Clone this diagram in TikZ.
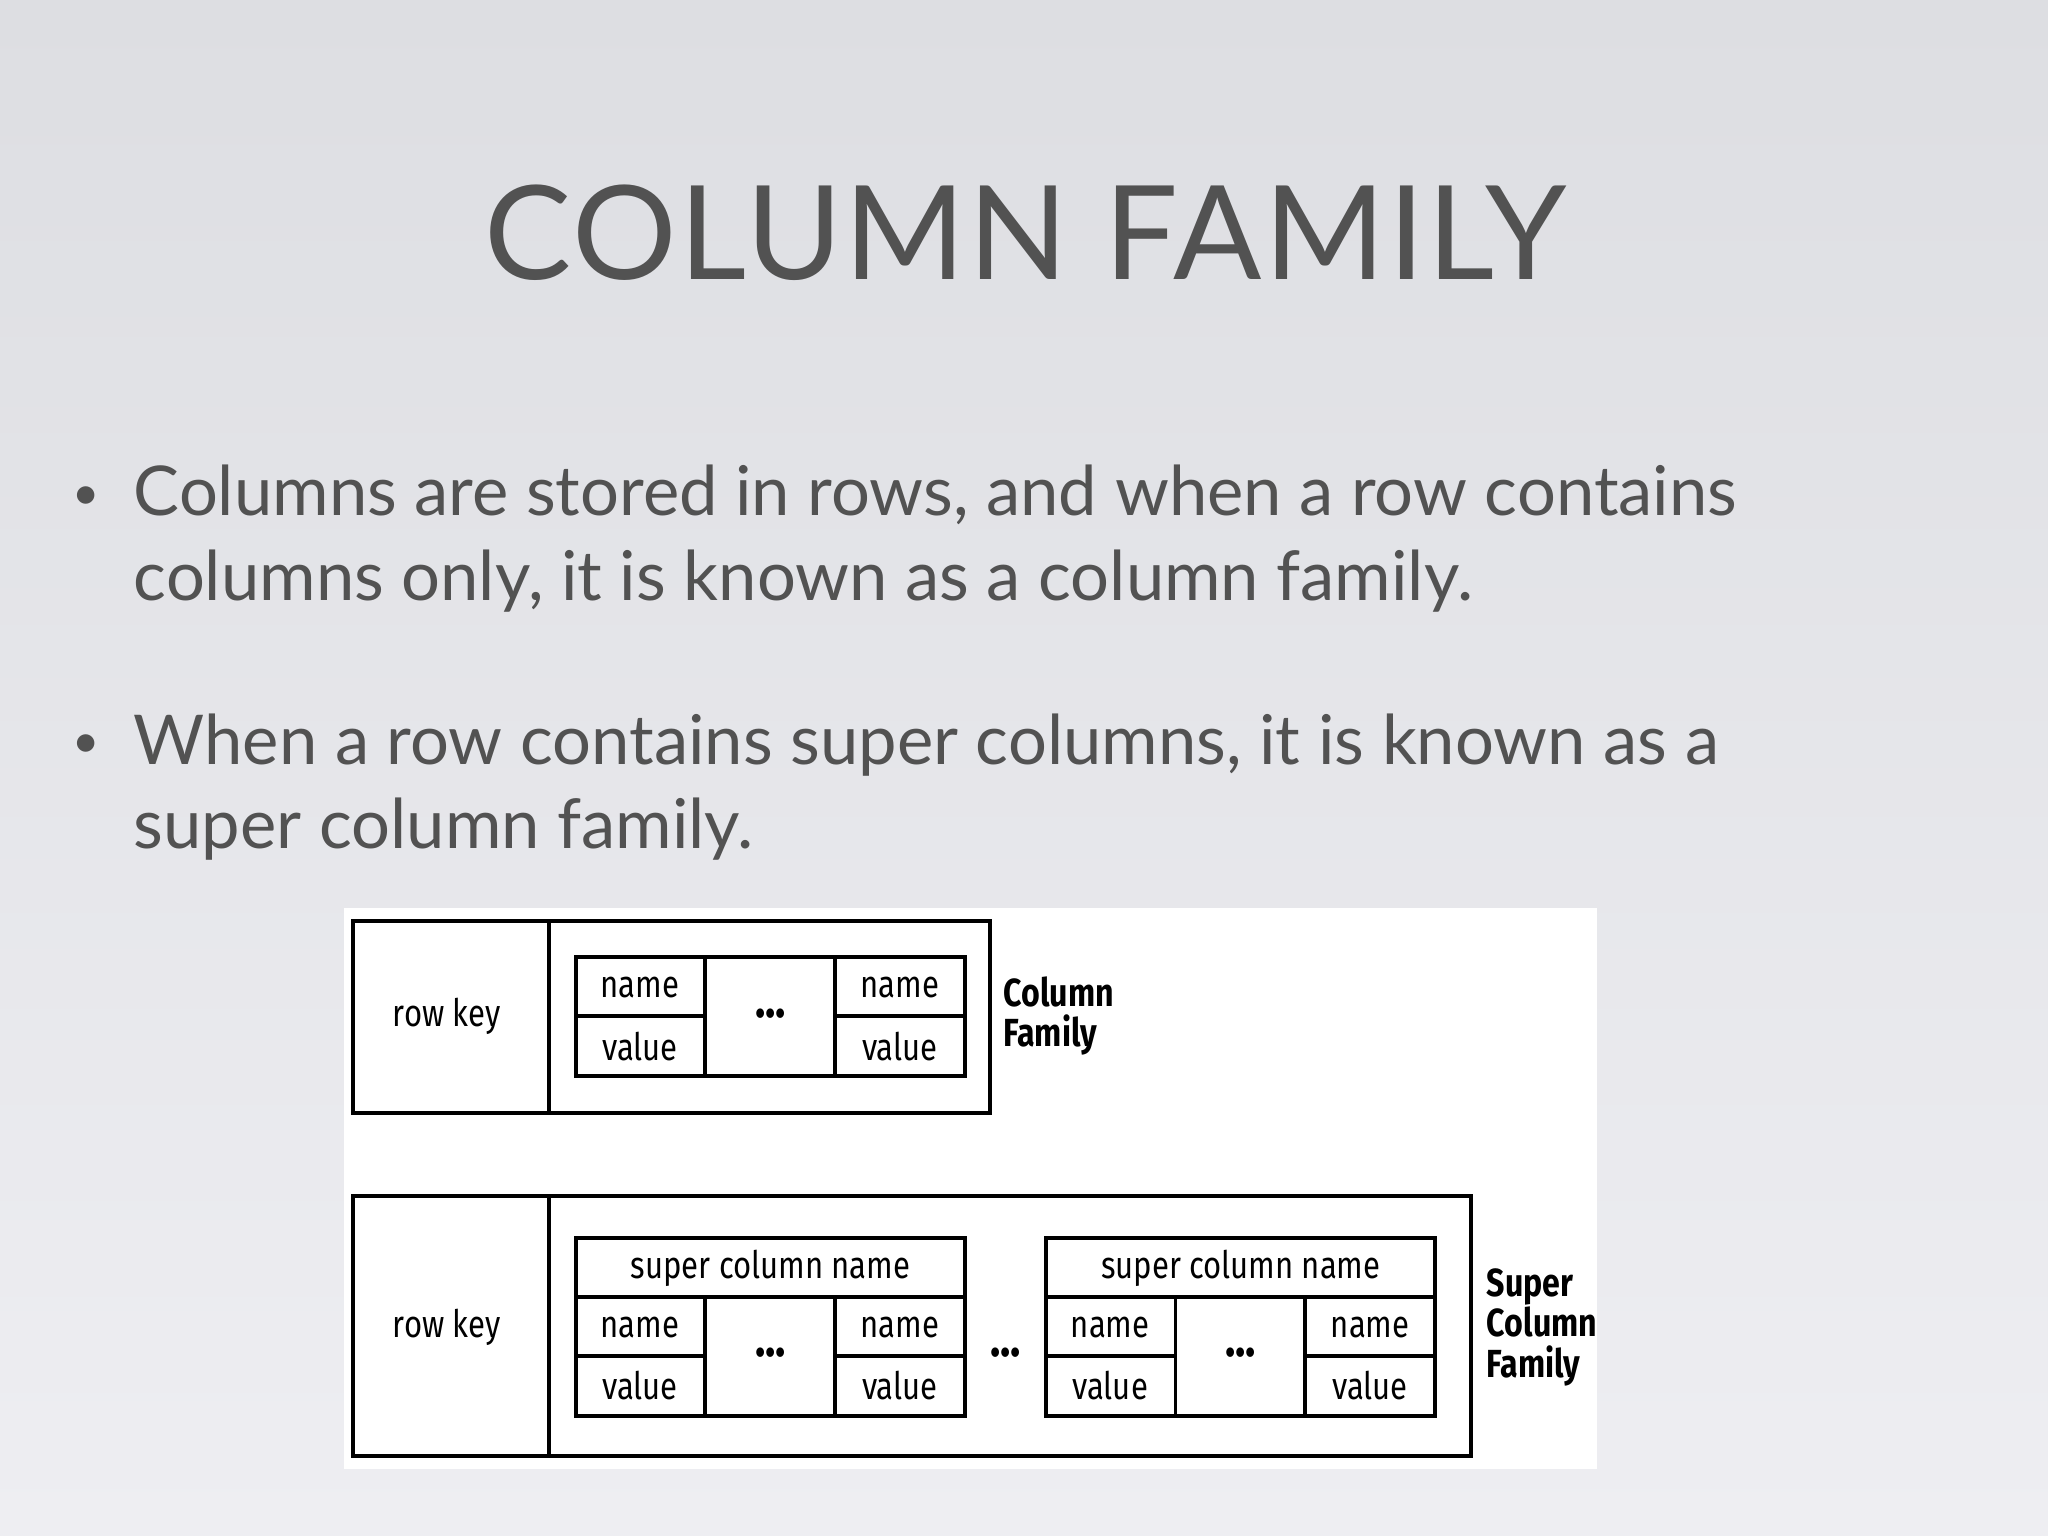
\documentclass[tikz,border=0pt]{standalone}
\usepackage{fontspec}
\setmainfont{Lato}
\newfontfamily\diag[FakeStretch=0.82]{Fira Sans}
\definecolor{bgtop}{HTML}{DDDEE2}
\definecolor{bgbot}{HTML}{EEEEF2}
\begin{document}
\begin{tikzpicture}[x=0.5pt,y=-0.5pt,
  ln/.style={line width=1.5pt,draw=black},
  lab/.style={font=\diag\fontsize{14.5}{16}\selectfont,inner sep=0pt},
  dots/.style={font=\diag\bfseries\fontsize{20}{16}\selectfont,inner sep=0pt},
  blab/.style={font=\diag\bfseries\fontsize{15}{15.5}\selectfont,inner sep=0pt,align=left,anchor=west},
  btxt/.style={font=\fontsize{26.3}{33}\selectfont,text=black!68,anchor=base west,inner sep=0pt}]
\shade[top color=bgtop,bottom color=bgbot] (0,0) rectangle (1568,1176);
\useasboundingbox (0,0) rectangle (1568,1176);
\node[font=\fontsize{50}{60}\selectfont\addfontfeature{LetterSpace=2},text=black!68] (title) at (785,178) {COLUMN FAMILY};
\node[btxt,font=\fontsize{18}{20}\selectfont] (b1) at (55,390) {•};
\node[btxt] (t1) at (102,395) {Columns are stored in rows, and when a row contains};
\node[btxt] (t2) at (102,460) {columns only, it is known as a column family.};
\node[btxt,font=\fontsize{18}{20}\selectfont] (b2) at (55,580) {•};
\node[btxt] (t3) at (102,585) {When a row contains super columns, it is known as a};
\node[btxt] (t4) at (102,650) {super column family.};
\fill[white] (263,695) rectangle (1223,1125);
% top
\draw[ln] (270,705) rectangle (758,852);
\draw[ln] (420,705) -- (420,852);
\draw[ln] (441,733) rectangle (739,824);
\draw[ln] (540,733) -- (540,824) (639,733) -- (639,824);
\draw[ln] (441,778) -- (540,778) (639,778) -- (739,778);
\node[lab] (rk1) at (342,778) {row key};
\node[lab] (n1) at (490,756) {name};
\node[lab] (v1) at (490,801) {value};
\node[lab] (n2) at (689,756) {name};
\node[lab] (v2) at (689,801) {value};
\node[dots] (d1) at (590,776) {...};
\node[blab] (cf) at (768,778) {Column\\Family};
% bottom
\draw[ln] (270,916) rectangle (1126,1115);
\draw[ln] (420,916) -- (420,1115);
\foreach \x/\p in {441/a,801/b}{
  \draw[ln] (\x,948) rectangle (\x+298,1084);
  \draw[ln] (\x,993) -- (\x+298,993);
  \draw[ln] (\x+99,993) -- (\x+99,1084) (\x+198,993) -- (\x+198,1084);
  \draw[ln] (\x,1038) -- (\x+99,1038) (\x+198,1038) -- (\x+298,1038);
  \node[lab] (sc\p) at (\x+149,971) {super column name};
  \node[lab] (na\p) at (\x+49,1016) {name};
  \node[lab] (va\p) at (\x+49,1061) {value};
  \node[lab] (nb\p) at (\x+248,1016) {name};
  \node[lab] (vb\p) at (\x+248,1061) {value};
  \node[dots] (dd\p) at (\x+149,1036) {...};
}
\node[lab] (rk2) at (342,1016) {row key};
\node[dots] (dm) at (770,1036) {...};
\node[blab] (scf) at (1138,1016) {Super\\Column\\Family};
\end{tikzpicture}
\end{document}
